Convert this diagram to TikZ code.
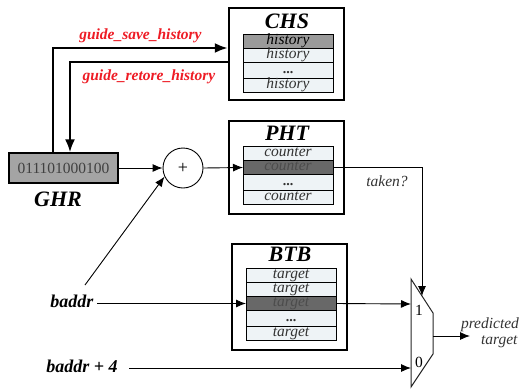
\documentclass[tikz,border=0pt]{standalone}
\usepackage{fontspec}
\setmainfont{Liberation Serif}
\usetikzlibrary{positioning,arrows.meta}

\definecolor{rowfill}{HTML}{EEF3F6}
\definecolor{hitlight}{HTML}{9A9A9A}
\definecolor{hitdark}{HTML}{686868}
\definecolor{ghrfill}{HTML}{A4A4A4}
\definecolor{guidered}{HTML}{EE1C25}

\tikzset{
  tablebox/.style={draw, line width=2.4pt, minimum width=115pt, inner sep=0pt},
  title/.style={font=\fontsize{22}{22}\selectfont\bfseries\itshape, inner sep=0pt,
    text height=14pt, text depth=0pt},
  entry/.style={draw, line width=0.9pt, fill=rowfill, minimum width=90pt,
    minimum height=14pt, inner sep=0pt, outer sep=0pt, text=black!80,
    text height=8.5pt, text depth=2.5pt,
    font=\fontsize{15.5}{15.5}\selectfont\itshape},
  dotrow/.style={minimum height=16pt, font=\fontsize{14}{14}\selectfont\bfseries},
  wire/.style={line width=0.9pt, -{Latex[length=10pt,width=8pt]}},
  bus/.style={line width=2.4pt, -{Latex[length=13pt,width=10pt]}},
  guide/.style={font=\fontsize{15.5}{15.5}\selectfont\bfseries\itshape, text=guidered},
  inlabel/.style={font=\fontsize{18}{18}\selectfont\bfseries\itshape},
  note/.style={font=\fontsize{15.5}{16}\selectfont\itshape, text=black!80},
}

\begin{document}
\begin{tikzpicture}[x=1pt,y=-1pt]
  \useasboundingbox (0,0) rectangle (522,391);
  % Define nodes
  % CHS
  \node[tablebox, minimum height=92pt] (chs) at (286.5,54) {};
  \node[title] (chs-t) at (287,21.5) {CHS};
  \node[entry, fill=hitlight, text=black] (chs1) at (288,41) {history};
  \node[entry, below=0pt of chs1] (chs2) {history};
  \node[entry, dotrow, below=0pt of chs2] (chs3) {...};
  \node[entry, below=0pt of chs3] (chs4) {history};
  % PHT
  \node[tablebox, minimum height=93pt] (pht) at (286.5,167.5) {};
  \node[title] (pht-t) at (287,133.5) {PHT};
  \node[entry] (pht1) at (288,153.5) {counter};
  \node[entry, fill=hitdark, text=black!70, below=0pt of pht1] (pht2) {counter};
  \node[entry, dotrow, below=0pt of pht2] (pht3) {...};
  \node[entry, below=0pt of pht3] (pht4) {counter};
  % BTB
  \node[tablebox, minimum height=106pt] (btb) at (289.5,297) {};
  \node[title] (btb-t) at (290,254.5) {BTB};
  \node[entry] (btb1) at (291,275.5) {target};
  \node[entry, below=0pt of btb1] (btb2) {target};
  \node[entry, fill=hitdark, text=black!70, below=0pt of btb2] (btb3) {target};
  \node[entry, dotrow, below=0pt of btb3] (btb4) {...};
  \node[entry, below=0pt of btb4] (btb5) {target};
  % GHR and adder
  \node[draw, line width=1.2pt, fill=ghrfill, minimum width=109pt, minimum height=30pt,
    font=\fontsize{15.5}{15.5}\selectfont, text=black!75] (ghr) at (63.5,168) {011101000100};
  \node[title] (ghr-t) at (58,199) {GHR};
  \node[draw, circle, line width=0.9pt, minimum size=40pt, inner sep=0pt,
    font=\fontsize{18}{18}\selectfont] (plus) at (183,168) {+};
  % inputs
  \node[inlabel] (baddr) at (72,301) {baddr};
  \node[inlabel] (baddr4) at (82,366) {baddr + 4};
  \coordinate (diag) at (85,285);
  % mux
  \draw[line width=1pt, black!85] (411,279) -- (433,313) -- (433,354) -- (411,387) -- cycle;
  \coordinate (mux1) at (411,304);
  \coordinate (mux0) at (411,368);
  \coordinate (muxsel) at (422,296);
  \coordinate (muxout) at (433,336);
  \coordinate (outtip) at (470,336);
  \node[font=\fontsize{15.5}{15.5}\selectfont] at (419,310) {1};
  \node[font=\fontsize{15.5}{15.5}\selectfont] at (419,362) {0};
  \node[note, align=center] (pred) at (490,333) {predicted\\\hspace*{1.2em}target};
  \node[note] (taken) at (387,181) {taken?};

  % guide paths
  \draw[bus] ([xshift=-10.5pt]ghr.north) |- (chs.west |- chs1.south)
    node[guide, pos=0.75, above=1pt] {guide\_save\_history};
  \draw[bus] (chs.west |- chs2.south) -| ([xshift=6.5pt]ghr.north)
    node[guide, pos=0.25, below=3pt] {guide\_retore\_history};
  % edges
  \draw[wire] (ghr.east) -- (plus.west);
  \draw[wire] (diag) -- (plus.205);
  \draw[wire] (plus.east) -- (pht2.west);
  \draw[wire] (pht2.east) -| (muxsel);
  \draw[wire] (baddr.east |- btb3.west) -- (btb3.west);
  \draw[wire] (btb3.east) -- (mux1);
  \draw[wire] ([xshift=8pt]baddr4.east |- mux0) -- (mux0);
  \draw[wire] (muxout) -- (outtip);
\end{tikzpicture}
\end{document}
